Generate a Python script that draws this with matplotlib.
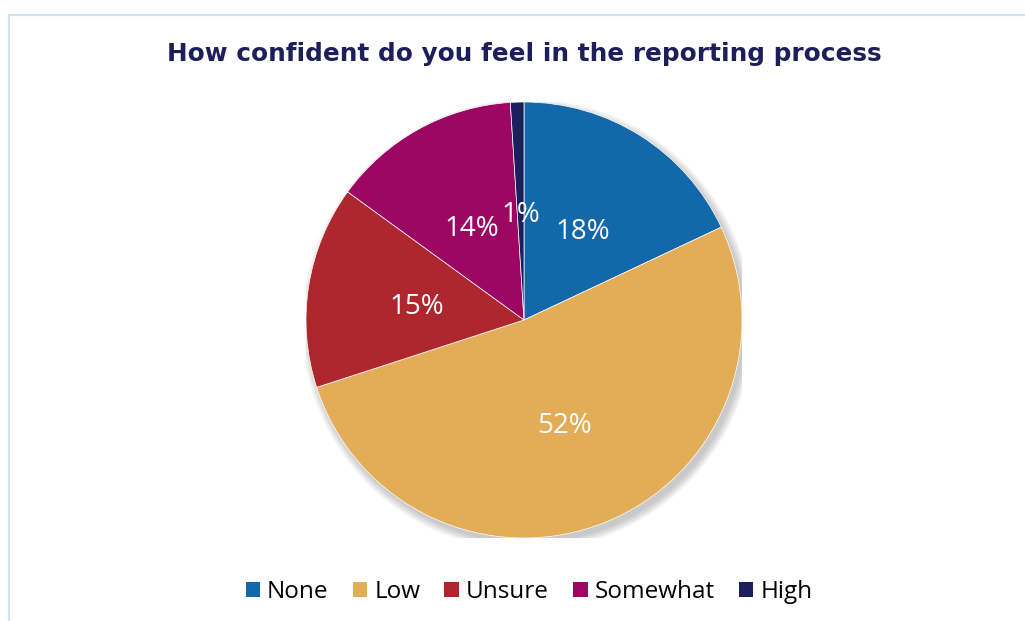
import matplotlib.pyplot as plt
from matplotlib.lines import Line2D
from matplotlib.patches import Circle, Patch

# survey answers
categories = ["None", "Low", "Unsure", "Somewhat", "High"]
shares = [18, 52, 15, 14, 1]
colors = ["#1368AA", "#E3AD58", "#AE262E", "#9B0762", "#1B1F5E"]
title = "How confident do you feel in the reporting process"

W, H = 1025, 621
fig = plt.figure(figsize=(W / 100, H / 100), dpi=100)

# light frame along the top and left edge
fig.add_artist(Line2D([9 / W, 1.0], [1 - 15 / H, 1 - 15 / H],
                      transform=fig.transFigure, color="#CFE2F3", lw=1.6))
fig.add_artist(Line2D([9 / W, 9 / W], [0.0, 1 - 15 / H],
                      transform=fig.transFigure, color="#CFE2F3", lw=1.6))

# pie axes, centre (524, 320) px, radius 218 px
cx, cy, r = 524, 320, 218
ax = fig.add_axes([(cx - r) / W, (H - cy - r) / H, 2 * r / W, 2 * r / H])
ax.axis("off")

# soft drop shadow
for k in range(8):
    ax.add_patch(Circle((0.016, -0.022), 1.0 + k * 0.005, color="#555555",
                        alpha=0.045, lw=0, zorder=0))

wedges, texts, autotexts = ax.pie(
    shares,
    colors=colors,
    startangle=90,
    counterclock=False,
    autopct="%d%%",
    pctdistance=0.5,
    wedgeprops=dict(edgecolor="white", linewidth=0.5),
    textprops=dict(color="white", fontsize=20, family="Open Sans"),
    frame=False,
)
ax.set_xlim(-1, 1)
ax.set_ylim(-1, 1)
ax.set_aspect("auto")
for w in wedges:
    w.set_zorder(2)
for t in autotexts:
    x, y = t.get_position()
    t.set_position((x, y - 0.02))
    t.set_zorder(3)

fig.text(cx / W, 1 - 54 / H, title, ha="center", va="center",
         fontsize=17.8, fontweight="bold", color="#1D1E5A", family="DejaVu Sans")

handles = [Patch(facecolor=c, edgecolor="none") for c in colors]
leg = fig.legend(handles, categories, loc="center",
                 bbox_to_anchor=(529 / W, 1 - 592 / H),
                 ncol=5, frameon=False, prop=dict(family="Open Sans", size=17.5),
                 handlelength=0.6, handleheight=0.6, handletextpad=0.28,
                 columnspacing=1.0)

fig.savefig("out.png", dpi=100, facecolor="white")
